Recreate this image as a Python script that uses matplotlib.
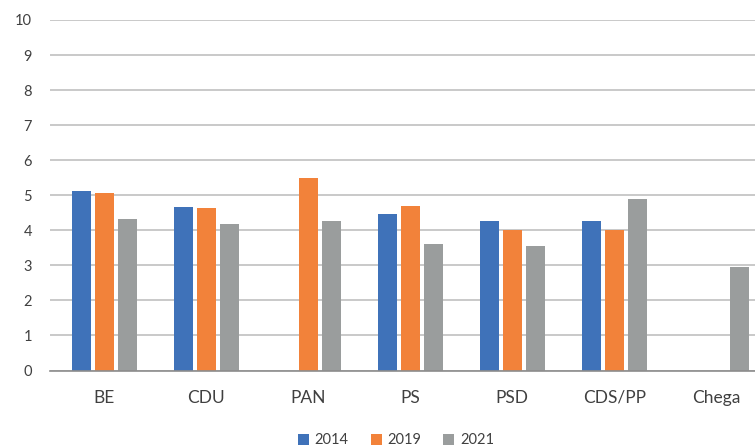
import matplotlib
matplotlib.use("Agg")
import matplotlib.pyplot as plt
import numpy as np

categories = ["BE", "CDU", "PAN", "PS", "PSD", "CDS/PP", "Chega"]
series_names = ["2014", "2019", "2021"]
v2014 = [5.12, 4.67, np.nan, 4.47, 4.27, 4.27, np.nan]
v2019 = [5.07, 4.64, 5.50, 4.70, 4.01, 4.00, np.nan]
v2021 = [4.32, 4.18, 4.27, 3.61, 3.55, 4.90, 2.95]
colors = ["#3F72B9", "#F2823A", "#9A9D9D"]
yticks = list(range(0, 11))

plt.rcParams['font.family'] = ['Lato', 'DejaVu Sans']

fig = plt.figure(figsize=(7.55, 4.47), dpi=100)
ax = fig.add_axes([50/755, 76.5/447, 705/755, 350.5/447])

x = np.arange(len(categories))
bw = 0.186
step = 0.225
for i, (vals, name, c) in enumerate(zip([v2014, v2019, v2021], series_names, colors)):
    ax.bar(x + (i - 1) * step, vals, width=bw, color=c, label=name, zorder=3)

ax.set_xlim(-0.53, 6.38)
ax.set_ylim(0, 10)
ax.set_yticks(yticks)
ax.set_xticks(x)
ax.set_xticklabels(categories, fontsize=12.5, color="#404040")
ax.tick_params(axis='y', labelsize=10.5, colors="#404040", length=0, pad=13)
ax.tick_params(axis='x', length=0, pad=14)
ax.grid(axis='y', color="#C0C0C0", linewidth=1.2, zorder=0)
for s in ["top", "right", "left"]:
    ax.spines[s].set_visible(False)
ax.spines["bottom"].set_color("#8C8C8C")
ax.spines["bottom"].set_linewidth(1.2)
ax.spines["bottom"].set_zorder(4)

leg = fig.legend(loc="lower center", bbox_to_anchor=(396/755, -0.03), ncol=3,
                 frameon=False, fontsize=10.5, handlelength=0.75, handleheight=0.75,
                 handletextpad=0.4, columnspacing=1.5)
for t in leg.get_texts():
    t.set_color("#404040")

fig.savefig("out.png", dpi=100)
